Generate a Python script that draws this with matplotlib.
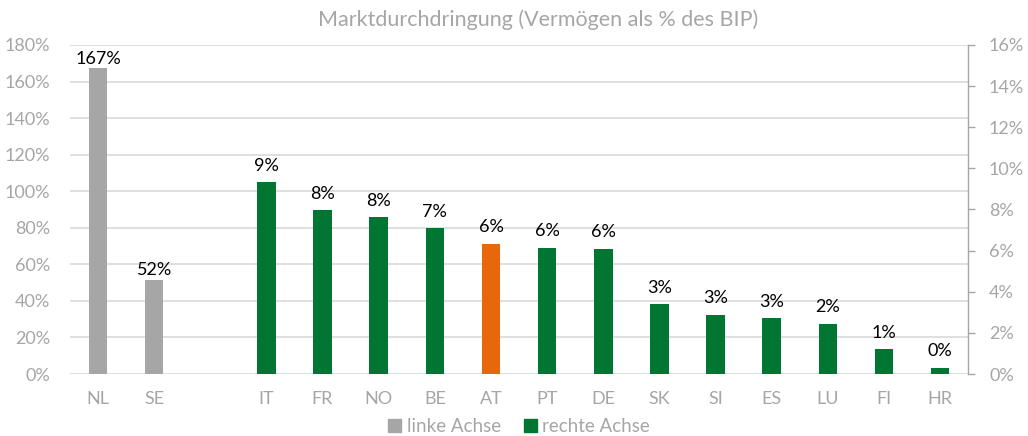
import matplotlib
matplotlib.use("Agg")
import matplotlib.pyplot as plt
from matplotlib.patches import Patch
from matplotlib.ticker import FuncFormatter, MultipleLocator

# data
categories = ["NL", "SE", "", "IT", "FR", "NO", "BE", "AT", "PT", "DE",
              "SK", "SI", "ES", "LU", "FI", "HR"]
left_labels = ["NL", "SE"]
left_values = [167.3, 51.6]          # % of GDP, left axis
right_labels = ["IT", "FR", "NO", "BE", "AT", "PT", "DE",
                "SK", "SI", "ES", "LU", "FI", "HR"]
right_values = [9.32, 7.96, 7.64, 7.10, 6.34, 6.14, 6.09,
                3.40, 2.89, 2.71, 2.44, 1.20, 0.31]   # right axis
highlight = "AT"

GRAY = "#A6A6A6"
GREEN = "#007632"
ORANGE = "#E8670A"
TEXT = "#A6A6A6"
GRID = "#D9D9D9"

plt.rcParams["font.family"] = ["Lato", "DejaVu Sans"]

fig = plt.figure(figsize=(10.28, 4.36), dpi=100)
ax = fig.add_axes([0.068, 0.1422, 0.8738, 0.7546])
ax2 = ax.twinx()

pos = {c: i for i, c in enumerate(categories)}
width = 0.33

lx = [pos[c] for c in left_labels]
ax.bar(lx, left_values, width=width, color=GRAY, zorder=3)
for x, v in zip(lx, left_values):
    ax.annotate(f"{v:.0f}%", (x, v), xytext=(0, 1), textcoords="offset points",
                ha="center", va="bottom", fontsize=13, color="black")

rx = [pos[c] for c in right_labels]
rcolors = [ORANGE if c == highlight else GREEN for c in right_labels]
ax2.bar(rx, right_values, width=width, color=rcolors, zorder=3)
for x, v in zip(rx, right_values):
    ax2.annotate(f"{v:.0f}%", (x, v), xytext=(0, 6), textcoords="offset points",
                 ha="center", va="bottom", fontsize=13, color="black")

ax.set_xlim(-0.5, len(categories) - 0.5)
ax.set_ylim(0, 180)
ax2.set_ylim(0, 16)
ax.yaxis.set_major_locator(MultipleLocator(20))
ax2.yaxis.set_major_locator(MultipleLocator(2))
pct = FuncFormatter(lambda v, _: f"{v:.0f}%")
ax.yaxis.set_major_formatter(pct)
ax2.yaxis.set_major_formatter(pct)

ax.set_xticks(range(len(categories)))
ax.set_xticklabels(categories)
ax.tick_params(axis="x", length=0, pad=12, labelsize=13, colors=TEXT)
ax.tick_params(axis="y", length=0, pad=14, labelsize=13, colors=TEXT)
ax2.tick_params(axis="y", length=5, width=1, pad=10, labelsize=13,
                colors=TEXT, direction="out")

ax.grid(axis="y", color=GRID, linewidth=1.2, zorder=0)
ax.set_axisbelow(True)
for s in ["top", "left", "bottom", "right"]:
    ax.spines[s].set_visible(False)
for s in ["top", "left", "bottom"]:
    ax2.spines[s].set_visible(False)
ax2.spines["right"].set_color(GRAY)
ax2.spines["right"].set_linewidth(1)

fig.suptitle("Marktdurchdringung (Vermögen als % des BIP)", x=0.523, y=0.978,
             fontsize=15.5, color=TEXT, va="top")

handles = [Patch(color=GRAY, label="linke Achse"),
           Patch(color=GREEN, label="rechte Achse")]
fig.legend(handles=handles, loc="center", bbox_to_anchor=(0.505, 0.022), ncol=2,
           frameon=False, fontsize=13.5, labelcolor=TEXT, handlelength=0.7,
           handleheight=0.7, handletextpad=0.3, columnspacing=1.2)

fig.savefig("out.png", dpi=100)
